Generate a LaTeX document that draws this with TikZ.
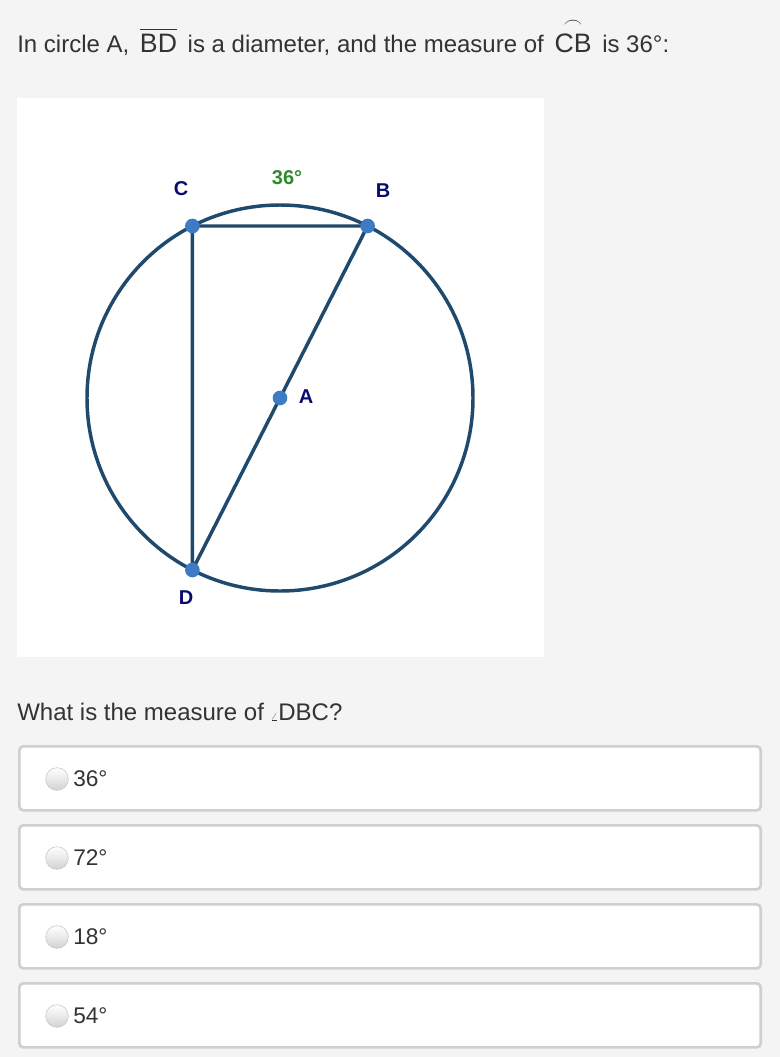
\documentclass[tikz,border=0pt]{standalone}
\usepackage{amsmath}
\usepackage{fontspec}
\setmainfont{Liberation Sans}
\definecolor{pagebg}{HTML}{F4F4F4}
\definecolor{geoline}{HTML}{1F4A6E}
\definecolor{geopoint}{HTML}{3D7CC4}
\definecolor{geolabel}{HTML}{0A0A6E}
\definecolor{arclabel}{HTML}{2E8B2E}
\definecolor{boxrule}{HTML}{CFCFCF}

\begin{document}
\begin{tikzpicture}[x=0.75pt,y=-0.75pt,
	geo/.style={draw=geoline,line width=2.6pt},
	pt/.style={circle,fill=geopoint,inner sep=0pt,minimum size=11pt},
	lbl/.style={text=geolabel,font=\fontsize{15}{17}\selectfont\bfseries},
	prose/.style={anchor=base west,inner sep=0pt,font=\fontsize{18}{20}\selectfont,text=black!80},
	choice/.style={draw=boxrule,line width=2pt,fill=white,rounded corners=3pt,minimum width=556pt,minimum height=48pt,anchor=north west},
	radio/.style={circle,draw=gray!45,top color=white,bottom color=gray!35,minimum size=17pt,inner sep=0pt},
	ans/.style={anchor=west,inner sep=0pt,font=\fontsize{17}{19}\selectfont,text=black!80}]
				\fill[pagebg] (0,0) rectangle (780,1057);
				\fill[white] (17,98) rectangle (544,657);
				\node[prose] (title) at (17,52) {In circle A, \,{\fontsize{20}{22}\selectfont$\overline{\text{BD}}$}\, is a diameter, and the measure of \,{\fontsize{20}{22}\selectfont$\overset{\frown}{\text{CB}}$}\, is 36°:};
				\coordinate (A) at (280,398);
				\coordinate (B) at (367.6,226);
				\coordinate (C) at (192.4,226);
				\coordinate (D) at (192.4,570);
				\draw[geo] (A) circle (144.75pt);
				\draw[geo] (C) -- (B) -- (D) -- cycle;
				\node[pt] (a) at (A) {};
				\node[pt] (b) at (B) {};
				\node[pt] (c) at (C) {};
				\node[pt] (d) at (D) {};
				\node[lbl] (lc) at (181,189) {C};
				\node[lbl,text=arclabel] (arc) at (287,178) {36°};
				\node[lbl] (lb) at (383,191) {B};
				\node[lbl] (la) at (306,397) {A};
				\node[lbl] (ld) at (186,598) {D};
				\node[prose] (question) at (17,720) {What is the measure of {\scriptsize$\angle$}DBC?};
				\foreach \y/\v [count=\i] in {745/36,824/72,903/18,982/54} {
					\node[choice] (box\i) at (18,\y) {};
					\node[radio] (radio\i) at (57,\y+34) {};
					\node[ans] (ans\i) at (73,\y+34) {\v°};
				}
			\end{tikzpicture}
\end{document}
